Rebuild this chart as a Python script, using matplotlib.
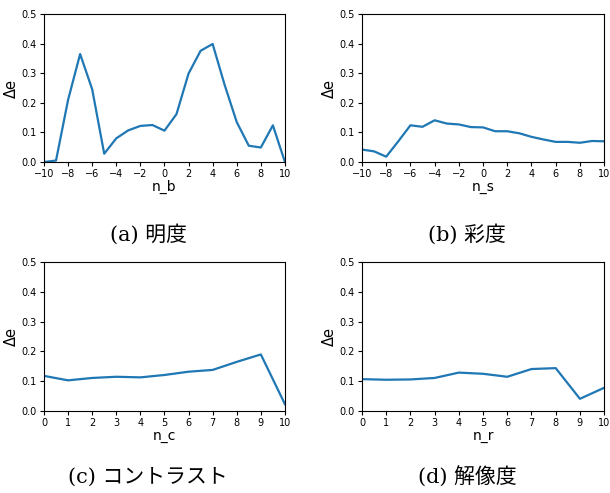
import matplotlib
matplotlib.use("Agg")
import matplotlib.pyplot as plt

# datos de cada panel
n_b = list(range(-10, 11))
de_b = [0.0, 0.005, 0.21, 0.365, 0.246, 0.028, 0.08, 0.107, 0.122, 0.125, 0.106,
        0.162, 0.299, 0.376, 0.399, 0.26, 0.135, 0.055, 0.049, 0.124, 0.0]

n_s = list(range(-10, 11))
de_s = [0.042, 0.036, 0.018, 0.07, 0.124, 0.119, 0.141, 0.13, 0.127, 0.118, 0.117,
        0.104, 0.104, 0.097, 0.085, 0.076, 0.068, 0.068, 0.065, 0.071, 0.07]

n_c = list(range(0, 11))
de_c = [0.118, 0.103, 0.111, 0.115, 0.113, 0.121, 0.132, 0.138, 0.165, 0.19, 0.023]

n_r = list(range(0, 11))
de_r = [0.107, 0.105, 0.106, 0.111, 0.129, 0.125, 0.115, 0.141, 0.144, 0.041, 0.078]

# (x, y, etiqueta, pie de figura, posicion de ejes, paso de ticks, posicion del pie)
paneles = [
    (n_b, de_b, "n_b", "(a) 明度", [0.0721, 0.6714, 0.395, 0.300], 2, (0.243, 0.525)),
    (n_s, de_s, "n_s", "(b) 彩度", [0.5934, 0.6714, 0.397, 0.300], 2, (0.766, 0.525)),
    (n_c, de_c, "n_c", "(c) コントラスト", [0.0721, 0.1663, 0.395, 0.302], 1, (0.243, 0.032)),
    (n_r, de_r, "n_r", "(d) 解像度", [0.5934, 0.1663, 0.397, 0.302], 1, (0.766, 0.032)),
]

fig = plt.figure(figsize=(6.1, 4.93), dpi=100)

for x, y, xlabel, caption, pos, paso, cpos in paneles:
    ax = fig.add_axes(pos)
    ax.plot(x, y, color="#1f77b4", linewidth=1.6)
    ax.set_xlim(x[0], x[-1])
    ax.set_ylim(0, 0.5)
    ax.set_xticks(range(x[0], x[-1] + 1, paso))
    ax.set_yticks([0.0, 0.1, 0.2, 0.3, 0.4, 0.5])
    ax.tick_params(labelsize=7, length=3, pad=2)
    ax.set_xlabel(xlabel, fontsize=10, labelpad=1)
    ax.set_ylabel("Δe", fontsize=10.5, labelpad=2)
    fig.text(cpos[0], cpos[1], caption, ha="center", va="center", fontsize=15,
             family=["DejaVu Serif", "Noto Sans CJK JP"])

fig.savefig("out.png", dpi=100)
